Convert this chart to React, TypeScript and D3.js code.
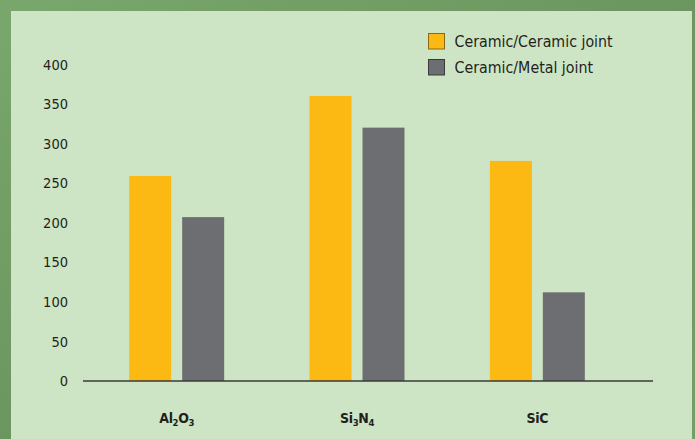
import React from "react";
import * as d3 from "d3";

const WIDTH = 695;
const HEIGHT = 439;

const categories = ["Al2O3", "Si3N4", "SiC"];
const seriesNames = ["Ceramic/Ceramic joint", "Ceramic/Metal joint"];
const ceramicCeramic = [259, 360, 278];
const ceramicMetal = [207, 320, 112];
const yTicks = [0, 50, 100, 150, 200, 250, 300, 350, 400];

// label parts: [text, isSubscript]
const categoryLabels: [string, boolean][][] = [
  [["Al", false], ["2", true], ["O", false], ["3", true]],
  [["Si", false], ["3", true], ["N", false], ["4", true]],
  [["SiC", false]],
];

const COLORS = ["#fdb913", "#6d6e71"];
const STROKES = ["#8a6a14", "#3b3b3d"];
const FONT = "'Liberation Sans Narrow', 'DejaVu Sans Condensed', 'Roboto Condensed', sans-serif";
const TEXT = "#231f20";

const App = () => {
  const baseY = 381;
  const yScale = d3.scaleLinear().domain([0, 400]).range([baseY, 64.3]);

  const x0 = d3.scaleBand().domain(categories).range([86.5, 627.5]).padding(0);
  const x1 = d3
    .scaleBand()
    .domain(seriesNames)
    .range([-47.5, 47.5])
    .paddingInner(11 / 53)
    .paddingOuter(0);

  const series = [ceramicCeramic, ceramicMetal];

  const bars = categories.map((cat, i) => {
    const cx = (x0(cat) ?? 0) + x0.bandwidth() / 2;
    return (
      <g key={cat}>
        {seriesNames.map((s, j) => {
          const v = series[j][i];
          return (
            <rect
              key={s}
              x={cx + (x1(s) ?? 0)}
              y={yScale(v)}
              width={x1.bandwidth()}
              height={baseY - yScale(v)}
              fill={COLORS[j]}
            />
          );
        })}
        <text
          x={cx}
          y={422.5}
          textAnchor="middle"
          fontSize={14}
          fontWeight="bold"
          fill={TEXT}
          fontFamily={FONT}
          letterSpacing={-0.4}
        >
          {categoryLabels[i].map(([t, sub], k) => (
            <tspan key={k} fontSize={sub ? 9.5 : 14} dy={sub ? 3.5 : k > 0 ? -3.5 : 0}>
              {t}
            </tspan>
          ))}
        </text>
      </g>
    );
  });

  return (
    <svg
      width={WIDTH}
      height={HEIGHT}
      style={{ position: "absolute", left: 0, top: 0 }}
    >
      <defs>
        <linearGradient id="frame" x1="0" y1="0" x2="1" y2="1">
          <stop offset="0%" stopColor="#79a76c" />
          <stop offset="50%" stopColor="#6c9660" />
          <stop offset="100%" stopColor="#73a067" />
        </linearGradient>
      </defs>
      <rect x={0} y={0} width={WIDTH} height={HEIGHT} fill="url(#frame)" />
      <rect x={11} y={11} width={681} height={HEIGHT - 11} fill="#cee5c5" />

      {yTicks.map((t) => (
        <text
          key={t}
          x={68}
          y={yScale(t)}
          dy="0.36em"
          textAnchor="end"
          fontSize={14.5}
          fill={TEXT}
          fontFamily={FONT}
        >
          {t}
        </text>
      ))}

      {bars}

      <line x1={83} x2={653} y1={baseY} y2={baseY} stroke="#3a3a3a" strokeWidth={1.5} />

      {seriesNames.map((s, j) => (
        <g key={s} transform={`translate(428.5, ${33.5 + j * 26})`}>
          <rect width={16} height={15.5} fill={COLORS[j]} stroke={STROKES[j]} strokeWidth={1} />
          <text x={26} y={13.5} fontSize={15.8} fill={TEXT} fontFamily={FONT}>
            {s}
          </text>
        </g>
      ))}
    </svg>
  );
};

export default App;
